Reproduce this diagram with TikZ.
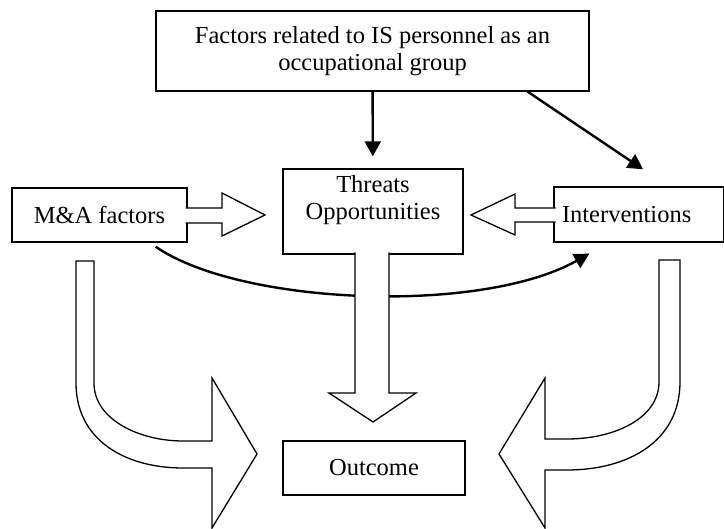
\documentclass[tikz,border=0pt]{standalone}
\usepackage{fontspec}
\setmainfont{Liberation Serif}
\usetikzlibrary{positioning}
\usetikzlibrary{arrows.meta}
\tikzset{box/.style = {draw, line width=1.4pt, inner sep=0, align=center,
                       font=\fontsize{24.5}{27}\selectfont}}
\tikzset{conn/.style = {line width=2.4pt,
                        -{Triangle[length=15pt,width=16pt]}}}
\tikzset{hollow/.style = {draw, fill=white, line width=1.3pt, line join=miter}}

\begin{document}
\begin{tikzpicture}[x=1pt,y=-1pt]
      \useasboundingbox (0,0) rectangle (724,529);
      % Boxes
      \node[box, minimum width=433, minimum height=80] (top) at (372.5,51)
            {Factors related to IS personnel as an\\occupational group};
      \node[box, minimum width=175, minimum height=54] (ma) at (99.5,215) {M\&A factors};
      \node[box, minimum width=180, minimum height=85, text depth=27pt] (center) at (373,211.5)
            {Threats\\Opportunities};
      \node[box, minimum height=55, text width=154, inner xsep=8, align=left] (interv) at (639,214.5)
            {Interventions};
      \node[box, minimum width=182, minimum height=54] (outcome) at (374,468) {Outcome};

      % Connectors
      \draw[conn, shorten >=12pt] (top) -- (center);
      \draw[conn] ([xshift=-62pt]top.south east) -- ([xshift=4pt,yshift=17pt]interv.north);
      \draw[conn] ([xshift=-32pt,yshift=-4pt]ma.south east)
            .. controls (240,305) and (480,315) .. ([xshift=36pt,yshift=-11pt]interv.south west);

      % Hollow arrows
      \path[hollow] (185.5,208) -- (222,208) -- (222,193) -- (265,215) -- (222,236)
            -- (222,223) -- (185.5,223);
      \path[hollow] (555.5,208) -- (515,208) -- (515,194) -- (471,215) -- (515,235)
            -- (515,222) -- (555.5,222);
      \path[hollow] (355,252.5) -- (355,393) -- (329,393) -- (373,422) -- (416,393)
            -- (389,393) -- (389,252.5);
      \path[hollow] (76,261) -- (94,261) -- (94,383) .. controls (94,420) and (140,441) .. (183,441)
            -- (212,441) -- (212,378) -- (257,454) -- (212,528) -- (212,468) -- (183,468)
            .. controls (125,468) and (76,440) .. (76,383) -- cycle;
      \path[hollow] (680,260) -- (659,260) -- (659,382) .. controls (659,418) and (615,439) .. (567,439)
            -- (545,439) -- (545,378) -- (499,454) -- (545,528) -- (545,470) -- (567,470)
            .. controls (630,470) and (680,440) .. (680,382) -- cycle;
\end{tikzpicture}
\end{document}
